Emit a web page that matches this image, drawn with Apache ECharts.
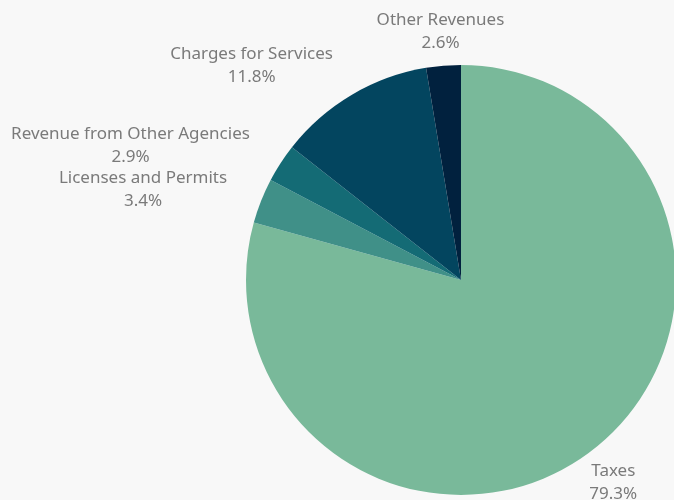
<!DOCTYPE html>
<html>
<head>
<meta charset="UTF-8">
<title>Revenue by Source</title>
<script src="https://cdn.jsdelivr.net/npm/echarts@6/dist/echarts.min.js"></script>
<style>
  html, body { margin: 0; padding: 0; background: #f8f8f8; }
  #chart { width: 674px; height: 500px; }
</style>
</head>
<body>
<div id="chart"></div>
<script>
// revenue sources, clockwise from 12 o'clock
var categories = ['Taxes', 'Licenses and Permits', 'Revenue from Other Agencies', 'Charges for Services', 'Other Revenues'];
var shares = [79.3, 3.4, 2.9, 11.8, 2.6];
var colors = ['#79b99a', '#409088', '#146b75', '#03455f', '#01213e'];

var cx = 461, cy = 280, R = 215;
var total = shares.reduce(function (a, b) { return a + b; }, 0);

// middle angle of each slice (radians, clockwise from top)
var midAngles = [];
var acc = 0;
shares.forEach(function (v) {
  midAngles.push((acc + v / 2) / total * Math.PI * 2);
  acc += v;
});

var chart = echarts.init(document.getElementById('chart'), null, { renderer: 'canvas' });

var option = {
  backgroundColor: '#f8f8f8',
  animation: false,
  series: [{
    type: 'pie',
    center: [cx, cy],
    radius: R,
    startAngle: 90,
    clockwise: true,
    data: categories.map(function (name, i) {
      return { name: name, value: shares[i], itemStyle: { color: colors[i] } };
    }),
    itemStyle: { borderWidth: 0 },
    label: {
      show: true,
      position: 'outside',
      formatter: function (p) { return p.name + '\n' + p.value.toFixed(1) + '%'; },
      fontFamily: 'Noto Sans',
      fontSize: 17,
      lineHeight: 23,
      color: '#7a7a7a',
      align: 'center',
      overflow: 'none'
    },
    labelLine: { show: false },
    labelLayout: function (p) {
      var a = midAngles[p.dataIndex];
      var dx = Math.sin(a), dy = -Math.cos(a);
      var px = cx + dx * R * 1.17, py = cy + dy * R * 1.17;
      var w = p.labelRect.width;
      // left-hand labels sit with their right edge at the anchor point
      if (dx < -0.3) px -= w / 2;
      return { x: px, y: py + 2, align: 'center', verticalAlign: 'middle' };
    },
    emphasis: { disabled: true }
  }]
};

chart.setOption(option);
</script>
</body>
</html>
